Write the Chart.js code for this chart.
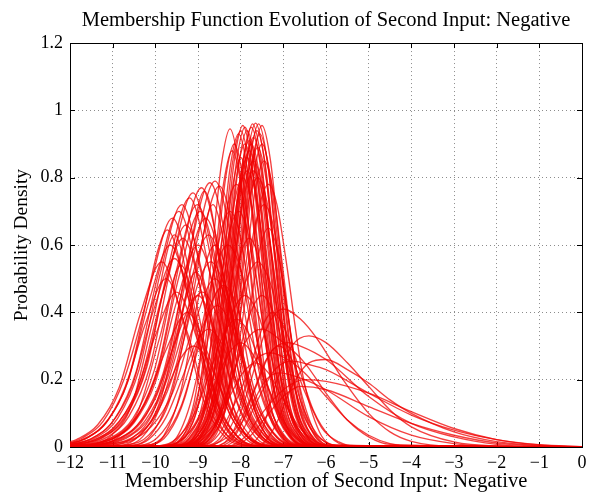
<!DOCTYPE html>
<html><head><meta charset="utf-8">
<script src="https://cdn.jsdelivr.net/npm/chart.js@4.4.1/dist/chart.umd.min.js"></script>
<style>html,body{margin:0;padding:0;background:#fff;}#wrap{width:599px;height:493px;}</style>
</head><body><div id="wrap"><canvas id="c" width="599" height="493"></canvas></div>
<script>
const chartTitle = 'Membership Function Evolution of Second Input: Negative';
const xAxisTitle = 'Membership Function of Second Input: Negative';
const yAxisTitle = 'Probability Density';
const xTickLabels = ['\u221212','\u221211','\u221210','\u22129','\u22128','\u22127','\u22126','\u22125','\u22124','\u22123','\u22122','\u22121','0'];
const yTickLabels = ['0','0.2','0.4','0.6','0.8','1','1.2'];

// each curve: x0,y0, x1,y1, ...
const leftCurves = [
 [-12,0.012, -11.72,0.026, -11.22,0.077, -10.72,0.206, -10.22,0.43, -9.95,0.58, -9.72,0.645, -9.22,0.439, -8.72,0.155, -8.22,0.032, -7.72,0.004, 0,0],
 [-12,0.01, -11.65,0.024, -11.15,0.072, -10.65,0.192, -10.15,0.432, -9.65,0.60, -9.15,0.408, -8.65,0.144, -8.15,0.03, -7.65,0.004, 0,0],
 [-12,0.006, -11.55,0.022, -11.05,0.067, -10.55,0.179, -10.05,0.403, -9.55,0.56, -9.05,0.381, -8.55,0.134, -8.05,0.028, -7.55,0.003, 0,0],
 [-12,0.007, -11.45,0.028, -10.95,0.084, -10.45,0.224, -9.95,0.504, -9.45,0.70, -8.95,0.476, -8.45,0.168, -7.95,0.035, -7.45,0.004, 0,0],
 [-12,0.006, -11.38,0.029, -10.88,0.086, -10.38,0.23, -9.88,0.518, -9.38,0.72, -8.88,0.49, -8.38,0.173, -7.88,0.036, -7.38,0.004, 0,0],
 [-12,0.004, -11.28,0.026, -10.78,0.079, -10.28,0.211, -9.78,0.475, -9.28,0.66, -8.78,0.449, -8.28,0.158, -7.78,0.033, -7.28,0.004, 0,0],
 [-12,0.004, -11.62,0.009, -11.12,0.03, -10.62,0.091, -10.12,0.242, -9.62,0.544, -9.12,0.755, -8.62,0.513, -8.12,0.181, -7.62,0.038, -7.12,0.005, 0,0],
 [-12,0.003, -11.52,0.009, -11.02,0.029, -10.52,0.086, -10.02,0.23, -9.52,0.518, -9.02,0.72, -8.52,0.49, -8.02,0.173, -7.52,0.036, -7.02,0.004, 0,0],
 [-12,0.003, -11.42,0.009, -10.92,0.031, -10.42,0.092, -9.92,0.246, -9.42,0.554, -8.92,0.77, -8.42,0.524, -7.92,0.185, -7.42,0.039, -6.92,0.005, 0,0],
 [-12,0.002, -11.32,0.008, -10.82,0.027, -10.32,0.082, -9.82,0.218, -9.32,0.49, -8.82,0.68, -8.32,0.462, -7.82,0.163, -7.32,0.034, -6.82,0.004, 0,0],
 [-12,0.002, -11.22,0.009, -10.72,0.031, -10.22,0.094, -9.72,0.251, -9.22,0.565, -8.72,0.785, -8.22,0.534, -7.72,0.188, -7.22,0.039, -6.72,0.005, 0,0],
 [-12,0.002, -11.1,0.009, -10.6,0.032, -10.1,0.095, -9.6,0.253, -9.1,0.569, -8.6,0.79, -8.1,0.537, -7.6,0.19, -7.1,0.04, -6.6,0.005, 0,0],
 [-12,0.001, -11,0.009, -10.5,0.031, -10,0.093, -9.5,0.248, -9,0.558, -8.5,0.775, -8,0.527, -7.5,0.186, -7,0.039, -6.5,0.005, 0,0],
 [-12,0.016, -11.85,0.022, -11.35,0.066, -10.85,0.176, -10.35,0.396, -9.85,0.55, -9.35,0.374, -8.85,0.132, -8.35,0.028, -7.85,0.003, 0,0],
 [-12,0.006, -11.5,0.018, -11,0.055, -10.5,0.147, -10,0.331, -9.5,0.46, -9,0.313, -8.5,0.11, -8,0.023, -7.5,0.003, 0,0],
 [-12,0.002, -11.5,0.005, -11,0.018, -10.5,0.054, -10,0.144, -9.5,0.324, -9,0.45, -8.5,0.306, -8,0.108, -7.5,0.023, -7,0.003, 0,0],
 [-12,0.008, -11.6,0.027, -11.1,0.082, -10.6,0.218, -10.1,0.49, -9.6,0.68, -9.1,0.462, -8.6,0.163, -8.1,0.034, -7.6,0.004, 0,0],
 [-12,0.005, -11.35,0.025, -10.85,0.074, -10.35,0.198, -9.85,0.446, -9.35,0.62, -8.85,0.422, -8.35,0.149, -7.85,0.031, -7.35,0.004, 0,0],
 [-12,0.004, -11.7,0.009, -11.2,0.03, -10.7,0.089, -10.2,0.237, -9.7,0.533, -9.2,0.74, -8.7,0.503, -8.2,0.178, -7.7,0.037, -7.2,0.004, 0,0],
 [-12,0.002, -11.5,0.007, -11,0.024, -10.5,0.072, -10,0.192, -9.5,0.432, -9,0.6, -8.5,0.408, -8,0.144, -7.5,0.03, -7,0.004, 0,0],
 [-12,0, -10.85,0.008, -10.35,0.038, -9.85,0.152, -9.35,0.456, -8.85,0.76, -8.35,0.441, -7.85,0.106, -7.35,0.015, -6.85,0.001, 0,0],
 [-12,0, -10.65,0.007, -10.15,0.036, -9.65,0.144, -9.15,0.432, -8.65,0.72, -8.15,0.418, -7.65,0.101, -7.15,0.014, -6.65,0.001, 0,0],
 [-12,0, -11.05,0.005, -10.55,0.026, -10.05,0.104, -9.55,0.312, -9.05,0.52, -8.55,0.302, -8.05,0.073, -7.55,0.01, -7.05,0.001, 0,0],
 [-12,0.012, -11.75,0.02, -11.25,0.06, -10.75,0.16, -10.25,0.36, -9.75,0.5, -9.25,0.34, -8.75,0.12, -8.25,0.025, -7.75,0.003, 0,0],
 [-12,0.003, -11.45,0.008, -10.95,0.028, -10.45,0.084, -9.95,0.224, -9.45,0.504, -8.95,0.70, -8.45,0.476, -7.95,0.168, -7.45,0.035, -6.95,0.004, 0,0],
 [-12,0.001, -11.4,0.005, -10.9,0.027, -10.4,0.108, -9.9,0.324, -9.4,0.54, -8.9,0.313, -8.4,0.076, -7.9,0.011, -7.4,0.001, 0,0],
 [-12,0.001, -11.25,0.008, -10.75,0.025, -10.25,0.076, -9.75,0.202, -9.25,0.454, -8.75,0.63, -8.25,0.428, -7.75,0.151, -7.25,0.032, -6.75,0.004, 0,0],
 [-12,0.003, -11.55,0.006, -11.05,0.032, -10.55,0.126, -10.05,0.378, -9.55,0.63, -9.05,0.365, -8.55,0.088, -8.05,0.013, -7.55,0.001, 0,0],
 [-12,0.004, -11.25,0.016, -10.75,0.048, -10.25,0.128, -9.75,0.288, -9.25,0.4, -8.75,0.272, -8.25,0.096, -7.75,0.02, -7.25,0.002, 0,0],
 [-12,0.001, -10.6,0.02, -10.1,0.06, -9.6,0.16, -9.1,0.36, -8.6,0.5, -8.1,0.34, -7.6,0.12, -7.1,0.025, -6.6,0.003, 0,0]
];

const tallCurves = [
 [-12,0, -9.85,0.004, -9.45,0.028, -9.05,0.161, -8.65,0.605, -8.45,0.841, -8.25,0.945, -8.05,0.841, -7.85,0.605, -7.45,0.161, -7.05,0.028, -6.65,0.004, 0,0],
 [-12,0, -9.65,0.004, -9.25,0.028, -8.85,0.158, -8.45,0.595, -8.25,0.828, -8.05,0.93, -7.85,0.828, -7.65,0.595, -7.25,0.158, -6.85,0.028, -6.45,0.004, 0,0],
 [-12,0, -9.55,0.004, -9.15,0.029, -8.75,0.162, -8.35,0.611, -8.15,0.85, -7.95,0.955, -7.75,0.85, -7.55,0.611, -7.15,0.162, -6.75,0.029, -6.35,0.004, 0,0],
 [-12,0, -9.5,0.004, -9.1,0.027, -8.7,0.153, -8.3,0.576, -8.1,0.801, -7.9,0.90, -7.7,0.801, -7.5,0.576, -7.1,0.153, -6.7,0.027, -6.3,0.004, 0,0],
 [-12,0, -9.45,0.004, -9.05,0.028, -8.65,0.16, -8.25,0.602, -8.05,0.837, -7.85,0.94, -7.65,0.837, -7.45,0.602, -7.05,0.16, -6.65,0.028, -6.25,0.004, 0,0],
 [-12,0, -9.4,0.004, -9.0,0.026, -8.6,0.15, -8.2,0.563, -8.0,0.783, -7.8,0.88, -7.6,0.783, -7.4,0.563, -7.0,0.15, -6.6,0.026, -6.2,0.004, 0,0],
 [-12,0, -9.35,0.004, -8.95,0.029, -8.55,0.162, -8.15,0.608, -7.95,0.846, -7.75,0.95, -7.55,0.846, -7.35,0.608, -6.95,0.162, -6.55,0.029, -6.15,0.004, 0,0],
 [-12,0, -9.3,0.004, -8.9,0.028, -8.5,0.156, -8.1,0.589, -7.9,0.819, -7.7,0.92, -7.5,0.819, -7.3,0.589, -6.9,0.156, -6.5,0.028, -6.1,0.004, 0,0],
 [-12,0, -9.25,0.004, -8.85,0.029, -8.45,0.164, -8.05,0.616, -7.85,0.856, -7.65,0.962, -7.45,0.856, -7.25,0.616, -6.85,0.164, -6.45,0.029, -6.05,0.004, 0,0],
 [-12,0, -9.2,0.004, -8.8,0.027, -8.4,0.151, -8.0,0.57, -7.8,0.792, -7.6,0.89, -7.4,0.792, -7.2,0.57, -6.8,0.151, -6.4,0.027, -6.0,0.004, 0,0],
 [-12,0, -9.15,0.004, -8.75,0.028, -8.35,0.158, -7.95,0.595, -7.75,0.828, -7.55,0.93, -7.35,0.828, -7.15,0.595, -6.75,0.158, -6.35,0.028, -5.95,0.004, 0,0],
 [-12,0, -9.1,0.004, -8.7,0.029, -8.3,0.162, -7.9,0.611, -7.7,0.85, -7.5,0.955, -7.3,0.85, -7.1,0.611, -6.7,0.162, -6.3,0.029, -5.9,0.004, 0,0],
 [-12,0, -9.6,0.003, -9.2,0.026, -8.8,0.146, -8.4,0.55, -8.2,0.765, -8.0,0.86, -7.8,0.765, -7.6,0.55, -7.2,0.146, -6.8,0.026, -6.4,0.003, 0,0],
 [-12,0, -9.45,0.003, -9.05,0.036, -8.65,0.205, -8.25,0.58, -8.05,0.752, -7.85,0.82, -7.65,0.752, -7.45,0.58, -7.05,0.205, -6.65,0.036, -6.25,0.003, 0,0],
 [-12,0, -9.3,0.003, -8.9,0.037, -8.5,0.213, -8.1,0.601, -7.9,0.779, -7.7,0.85, -7.5,0.779, -7.3,0.601, -6.9,0.213, -6.5,0.037, -6.1,0.003, 0,0],
 [-12,0, -9.05,0.003, -8.65,0.03, -8.25,0.17, -7.85,0.57, -7.65,0.77, -7.45,0.85, -7.25,0.77, -7.05,0.57, -6.65,0.17, -6.25,0.03, -5.85,0.003, 0,0],
 [-12,0, -9.7,0.005, -9.3,0.044, -8.9,0.217, -8.5,0.566, -8.3,0.72, -8.1,0.78, -7.9,0.72, -7.7,0.566, -7.3,0.217, -6.9,0.044, -6.5,0.005, 0,0],
 [-12,0, -8.95,0.005, -8.55,0.044, -8.15,0.217, -7.75,0.566, -7.55,0.72, -7.35,0.78, -7.15,0.72, -6.95,0.566, -6.55,0.217, -6.15,0.044, -5.75,0.005, 0,0],
 [-12,0, -9.75,0.004, -9.35,0.027, -8.95,0.153, -8.55,0.576, -8.35,0.801, -8.15,0.9, -7.95,0.801, -7.75,0.576, -7.35,0.153, -6.95,0.027, -6.55,0.004, 0,0],
 [-12,0, -9.2,0.005, -8.8,0.045, -8.4,0.222, -8.0,0.581, -7.8,0.738, -7.6,0.8, -7.4,0.738, -7.2,0.581, -6.8,0.222, -6.4,0.045, -6.0,0.005, 0,0],
 [-12,0, -9.8,0.004, -9.4,0.026, -9.0,0.15, -8.6,0.563, -8.4,0.783, -8.2,0.88, -8.0,0.783, -7.8,0.563, -7.4,0.15, -7.0,0.026, -6.6,0.004, 0,0],
 [-12,0, -9.6,0.004, -9.2,0.028, -8.8,0.16, -8.4,0.602, -8.2,0.837, -8.0,0.94, -7.8,0.837, -7.6,0.602, -7.2,0.16, -6.8,0.028, -6.4,0.004, 0,0],
 [-12,0, -9.5,0.004, -9.1,0.029, -8.7,0.162, -8.3,0.608, -8.1,0.846, -7.9,0.95, -7.7,0.846, -7.5,0.608, -7.1,0.162, -6.7,0.029, -6.3,0.004, 0,0],
 [-12,0, -9.4,0.004, -9.0,0.027, -8.6,0.155, -8.2,0.582, -8.0,0.81, -7.8,0.91, -7.6,0.81, -7.4,0.582, -7.0,0.155, -6.6,0.027, -6.2,0.004, 0,0],
 [-12,0, -9.32,0.004, -8.92,0.029, -8.52,0.163, -8.12,0.614, -7.92,0.854, -7.72,0.96, -7.52,0.854, -7.32,0.614, -6.92,0.163, -6.52,0.029, -6.12,0.004, 0,0],
 [-12,0, -9.22,0.004, -8.82,0.028, -8.42,0.16, -8.02,0.602, -7.82,0.837, -7.62,0.94, -7.42,0.837, -7.22,0.602, -6.82,0.16, -6.42,0.028, -6.02,0.004, 0,0],
 [-12,0, -9.18,0.004, -8.78,0.029, -8.38,0.163, -7.98,0.614, -7.78,0.854, -7.58,0.96, -7.38,0.854, -7.18,0.614, -6.78,0.163, -6.38,0.029, -5.98,0.004, 0,0],
 [-12,0, -9.1,0.004, -8.7,0.027, -8.3,0.153, -7.9,0.576, -7.7,0.801, -7.5,0.9, -7.3,0.801, -7.1,0.576, -6.7,0.153, -6.3,0.027, -5.9,0.004, 0,0],
 [-12,0, -9.45,0.003, -9.05,0.026, -8.65,0.146, -8.25,0.55, -8.05,0.765, -7.85,0.86, -7.65,0.765, -7.45,0.55, -7.05,0.146, -6.65,0.026, -6.25,0.003, 0,0],
 [-12,0, -9.3,0.005, -8.9,0.046, -8.5,0.228, -8.1,0.595, -7.9,0.757, -7.7,0.82, -7.5,0.757, -7.3,0.595, -6.9,0.228, -6.5,0.046, -6.1,0.005, 0,0],
 [-12,0, -9.65,0.004, -9.25,0.039, -8.85,0.195, -8.45,0.508, -8.25,0.646, -8.05,0.7, -7.85,0.646, -7.65,0.508, -7.25,0.195, -6.85,0.039, -6.45,0.004, 0,0],
 [-12,0, -9.05,0.004, -8.65,0.04, -8.25,0.2, -7.85,0.523, -7.65,0.665, -7.45,0.72, -7.25,0.665, -7.05,0.523, -6.65,0.2, -6.25,0.04, -5.85,0.004, 0,0],
 [-12,0, -9.35,0.004, -8.95,0.027, -8.55,0.153, -8.15,0.576, -7.95,0.801, -7.75,0.9, -7.55,0.801, -7.35,0.576, -6.95,0.153, -6.55,0.027, -6.15,0.004, 0,0],
 [-12,0, -9.55,0.002, -9.15,0.023, -8.75,0.165, -8.35,0.539, -8.15,0.725, -7.95,0.8, -7.75,0.725, -7.55,0.539, -7.15,0.165, -6.75,0.023, -6.35,0.002, 0,0]
];

const midCurves = [
 [-12,0, -10.7,0.005, -10.3,0.03, -9.9,0.115, -9.5,0.279, -9.2,0.406, -8.9,0.46, -8.6,0.406, -8.3,0.279, -7.9,0.115, -7.5,0.03, -7.1,0.005, 0,0],
 [-12,0, -10.35,0.005, -9.95,0.028, -9.55,0.105, -9.15,0.255, -8.85,0.37, -8.55,0.42, -8.25,0.37, -7.95,0.255, -7.55,0.105, -7.15,0.028, -6.75,0.005, 0,0],
 [-12,0, -9.8,0.003, -9.4,0.02, -9.0,0.078, -8.6,0.188, -8.3,0.273, -8.0,0.31, -7.7,0.273, -7.4,0.188, -7.0,0.078, -6.6,0.02, -6.2,0.003, 0,0],
 [-12,0, -9.4,0.006, -9.0,0.036, -8.6,0.138, -8.2,0.334, -7.9,0.485, -7.6,0.55, -7.3,0.485, -7.0,0.334, -6.6,0.138, -6.2,0.036, -5.8,0.006, 0,0],
 [-12,0, -10.1,0.007, -9.7,0.04, -9.3,0.15, -8.9,0.364, -8.6,0.529, -8.3,0.6, -8.0,0.529, -7.7,0.364, -7.3,0.15, -6.9,0.04, -6.5,0.007, 0,0],
 [-12,0, -8.95,0.003, -8.55,0.018, -8.15,0.13, -7.75,0.44, -7.55,0.59, -7.35,0.65, -7.15,0.59, -6.95,0.44, -6.55,0.13, -6.15,0.018, -5.75,0.002, 0,0],
 [-12,0, -10.5,0.006, -10.1,0.036, -9.7,0.138, -9.3,0.334, -9.0,0.485, -8.7,0.55, -8.4,0.485, -8.1,0.334, -7.7,0.138, -7.3,0.036, -6.9,0.006, 0,0],
 [-12,0, -9.7,0.005, -9.3,0.03, -8.9,0.113, -8.5,0.273, -8.2,0.397, -7.9,0.45, -7.6,0.397, -7.3,0.273, -6.9,0.113, -6.5,0.03, -6.1,0.005, 0,0],
 [-12,0, -8.85,0.002, -8.45,0.022, -8.05,0.111, -7.65,0.29, -7.45,0.369, -7.25,0.4, -7.0,0.36, -6.7,0.26, -6.3,0.11, -5.9,0.03, -5.5,0.005, 0,0],
 [-12,0, -10.2,0.005, -9.8,0.032, -9.4,0.12, -9.0,0.291, -8.7,0.423, -8.4,0.48, -8.1,0.423, -7.8,0.291, -7.4,0.12, -7.0,0.032, -6.6,0.005, 0,0],
 [-12,0, -9.9,0.004, -9.5,0.025, -9.1,0.095, -8.7,0.231, -8.4,0.335, -8.1,0.38, -7.8,0.335, -7.5,0.231, -7.1,0.095, -6.7,0.025, -6.3,0.004, 0,0],
 [-12,0, -9.4,0.004, -9.0,0.035, -8.6,0.172, -8.2,0.45, -8.0,0.572, -7.8,0.62, -7.6,0.572, -7.4,0.45, -7.0,0.172, -6.6,0.035, -6.2,0.004, 0,0],
 [-12,0, -10.55,0.004, -10.15,0.023, -9.75,0.088, -9.35,0.212, -9.05,0.309, -8.75,0.35, -8.45,0.309, -8.15,0.212, -7.75,0.088, -7.35,0.023, -6.95,0.004, 0,0],
 [-12,0, -9.3,0.003, -8.9,0.022, -8.5,0.086, -8.1,0.248, -7.8,0.389, -7.5,0.45, -7.2,0.389, -6.9,0.248, -6.5,0.086, -6.1,0.022, -5.7,0.003, 0,0],
 [-12,0, -9.85,0.004, -9.45,0.039, -9.05,0.195, -8.65,0.508, -8.45,0.646, -8.25,0.7, -8.05,0.646, -7.85,0.508, -7.45,0.195, -7.05,0.039, -6.65,0.004, 0,0],
 [-12,0, -8.9,0.002, -8.5,0.015, -8.1,0.057, -7.7,0.165, -7.4,0.26, -7.1,0.3, -6.8,0.26, -6.5,0.165, -6.1,0.057, -5.7,0.015, -5.3,0.002, 0,0],
 [-12,0, -10.9,0.003, -10.5,0.02, -10.1,0.075, -9.7,0.182, -9.4,0.265, -9.1,0.3, -8.8,0.265, -8.5,0.182, -8.1,0.075, -7.7,0.02, -7.3,0.003, 0,0],
 [-12,0, -10.2,0.004, -9.8,0.034, -9.4,0.167, -9.0,0.436, -8.8,0.554, -8.6,0.6, -8.4,0.554, -8.2,0.436, -7.8,0.167, -7.4,0.034, -7.0,0.004, 0,0],
 [-12,0, -9.45,0.003, -9.05,0.017, -8.65,0.063, -8.25,0.152, -7.95,0.22, -7.65,0.25, -7.35,0.22, -7.05,0.152, -6.65,0.063, -6.25,0.017, -5.85,0.003, 0,0]
];

const tailCurves = [
 [-12,0, -8.6,0.003, -8.2,0.04, -7.8,0.18, -7.4,0.35, -7.0,0.41, -6.6,0.38, -6.2,0.32, -5.6,0.2, -5.0,0.1, -4.5,0.045, -4.0,0.017, -3.0,0.002, 0,0],
 [-12,0, -8.5,0.003, -8.1,0.04, -7.7,0.16, -7.3,0.28, -6.9,0.31, -6.6,0.30, -6.0,0.26, -5.0,0.15, -4.0,0.07, -3.0,0.03, -2.0,0.008, -1.0,0.001, 0,0],
 [-12,0, -8.4,0.003, -8.0,0.04, -7.6,0.14, -7.2,0.23, -6.8,0.255, -6.4,0.245, -6.0,0.23, -5.0,0.16, -4.0,0.095, -3.0,0.05, -2.0,0.022, -1.0,0.007, 0,0.001],
 [-12,0, -7.6,0.003, -7.2,0.06, -6.8,0.18, -6.4,0.25, -6.0,0.26, -5.5,0.23, -5.0,0.19, -4.5,0.14, -4.0,0.1, -3.0,0.045, -2.0,0.016, -1.0,0.004, 0,0],
 [-12,0, -8.3,0.003, -7.9,0.03, -7.5,0.1, -7.0,0.17, -6.5,0.2, -6.0,0.195, -5.0,0.16, -4.0,0.105, -3.0,0.055, -2.0,0.022, -1.0,0.006, 0,0.001],
 [-12,0, -7.9,0.003, -7.5,0.05, -7.2,0.18, -6.8,0.3, -6.4,0.33, -6.0,0.31, -5.5,0.25, -5.0,0.18, -4.5,0.11, -4.0,0.06, -3.0,0.015, -2.0,0.003, 0,0],
 [-12,0, -8.9,0.003, -8.5,0.04, -8.1,0.14, -7.7,0.25, -7.3,0.28, -6.9,0.26, -6.5,0.22, -6.0,0.15, -5.5,0.08, -5.0,0.035, -4.5,0.01, -4.0,0.002, 0,0],
 [-12,0, -8.6,0.003, -8.2,0.03, -7.8,0.11, -7.4,0.2, -7.1,0.22, -6.5,0.2, -6.0,0.17, -5.0,0.09, -4.0,0.035, -3.0,0.01, -2.0,0.002, 0,0],
 [-12,0, -9.1,0.003, -8.7,0.04, -8.3,0.17, -7.9,0.31, -7.5,0.35, -7.0,0.31, -6.5,0.25, -6.0,0.16, -5.5,0.08, -5.0,0.03, -4.5,0.008, 0,0],
 [-12,0, -8.2,0.003, -7.8,0.03, -7.4,0.09, -7.0,0.15, -6.6,0.18, -6.0,0.17, -5.0,0.12, -4.0,0.07, -3.0,0.035, -2.0,0.012, -1.0,0.003, 0,0]
];

const allCurves = [].concat(leftCurves, tallCurves, midCurves, tailCurves);
const toPoints = arr => { const p = []; for (let i = 0; i < arr.length; i += 2) p.push({x: arr[i], y: arr[i+1]}); return p; };
const datasets = allCurves.map(c => ({
  data: toPoints(c),
  borderColor: 'rgba(240,0,0,0.75)',
  borderWidth: 1.35,
  pointRadius: 0,
  fill: false,
  cubicInterpolationMode: 'monotone'
}));

const serif = 'Liberation Serif';
const frame = {
  id: 'frame',
  beforeDatasetsDraw(chart) {
    const {ctx, chartArea: a, scales: {x, y}} = chart;
    ctx.save();
    ctx.strokeStyle = '#000';
    ctx.lineWidth = 1;
    ctx.strokeRect(Math.round(a.left) + 0.5, Math.round(a.top) + 0.5, Math.round(a.right - a.left), Math.round(a.bottom - a.top));
    ctx.beginPath();
    x.ticks.forEach(t => {
      const px = Math.round(x.getPixelForValue(t.value)) + 0.5;
      ctx.moveTo(px, a.bottom); ctx.lineTo(px, a.bottom - 5);
      ctx.moveTo(px, a.top); ctx.lineTo(px, a.top + 5);
    });
    y.ticks.forEach(t => {
      const py = Math.round(y.getPixelForValue(t.value)) + 0.5;
      ctx.moveTo(a.left, py); ctx.lineTo(a.left + 5, py);
      ctx.moveTo(a.right, py); ctx.lineTo(a.right - 5, py);
    });
    ctx.stroke();
    ctx.restore();
  }
};

new Chart(document.getElementById('c'), {
  type: 'line',
  data: { datasets },
  plugins: [frame],
  options: {
    responsive: false,
    animation: false,
    devicePixelRatio: 1,
    layout: { padding: { left: 0, right: 17, top: 0, bottom: 0 } },
    plugins: {
      legend: { display: false },
      tooltip: { enabled: false },
      title: {
        display: true, text: chartTitle, fullSize: false, color: '#000',
        font: { family: serif, size: 20.5, weight: 'normal', lineHeight: 1.1 },
        padding: { top: 9, bottom: 11.5 }
      }
    },
    scales: {
      x: {
        type: 'linear', min: -12, max: 0,
        afterFit: s => { s.height = 46; },
        ticks: { stepSize: 1, color: '#000', padding: 6, maxRotation: 0, autoSkip: false,
          font: { family: serif, size: 18, lineHeight: 1.1 },
          callback: (v, i) => xTickLabels[i] },
        grid: { color: 'rgba(0,0,0,0.45)', drawTicks: false },
        border: { display: false, dash: [1, 3] },
        title: { display: true, text: xAxisTitle, color: '#000', padding: { top: 0, bottom: 0 },
          font: { family: serif, size: 20.5, lineHeight: 1.1 } }
      },
      y: {
        min: 0, max: 1.2,
        afterFit: s => { s.width = 70; },
        ticks: { stepSize: 0.2, color: '#000', padding: 7,
          font: { family: serif, size: 18, lineHeight: 1.1 },
          callback: (v, i) => yTickLabels[i] },
        grid: { color: 'rgba(0,0,0,0.45)', drawTicks: false },
        border: { display: false, dash: [1, 3] },
        title: { display: true, text: yAxisTitle, color: '#000', padding: { top: 11, bottom: 0 },
          font: { family: serif, size: 19.5, lineHeight: 1.1 } }
      }
    }
  }
});
</script>
</body></html>
